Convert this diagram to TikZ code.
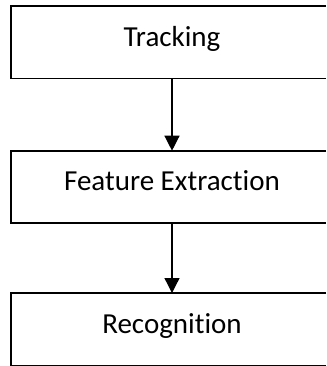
\documentclass[tikz,border=0pt]{standalone}
\usepackage{fontspec}
\setmainfont{Carlito}[RawFeature=-liga]
\usetikzlibrary{arrows.meta}
\begin{document}
\begin{tikzpicture}[x=1pt,y=-1pt,
  stagebox/.style={minimum width=322pt, minimum height=72pt,
    inner sep=0pt, font=\fontsize{29}{31}\selectfont, text height=19pt, text depth=11pt},
  boxline/.style={draw=black, line width=1.6pt},
  flowarrow/.style={draw=black, line width=1.3pt, -{Triangle[width=15pt,length=15pt]}}]
\useasboundingbox (0,0) rectangle (326,366);
\coordinate (edge) at (326,0);
\node[stagebox] (track) at (172,42.3) {Tracking};
\node[stagebox] (feat) at (172,186.9) {Feature Extraction};
\node[stagebox] (recog) at (172,329.2) {Recognition};
\foreach \n in {track,feat,recog}
  \draw[boxline] (edge |- \n.north) -- (\n.north west) -- (\n.south west) -- (edge |- \n.south);
\draw[flowarrow] (track.south) -- (feat.north);
\draw[flowarrow] (feat.south) -- (recog.north);
\end{tikzpicture}
\end{document}
